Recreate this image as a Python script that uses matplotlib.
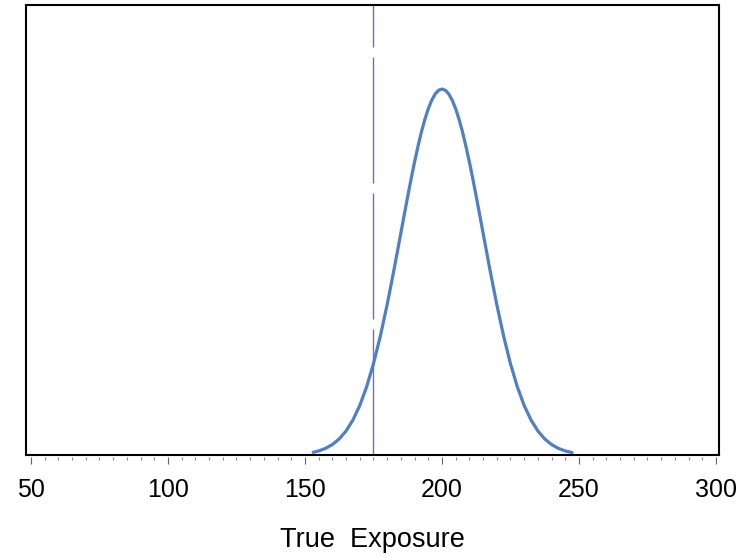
import matplotlib
matplotlib.use("Agg")
import matplotlib.pyplot as plt
from matplotlib.ticker import MultipleLocator

plt.rcParams['font.family'] = ['Liberation Sans', 'DejaVu Sans']
plt.rcParams['lines.scale_dashes'] = False

# densidad (exposicion verdadera)
exposicion = [153, 155, 157.5, 160, 162.5, 165, 167.5, 170, 172.5, 175, 177.5,
              180, 182.5, 185, 186.25, 187.5, 188.75, 190, 191.25, 192.5, 193.75,
              195, 196.25, 197.5, 198.75, 200, 201.25, 202.5, 203.75, 205, 206.25,
              207.5, 208.75, 210, 211.25, 212.5, 213.75, 215, 217.5, 220, 222.5,
              225, 227.5, 230, 232.5, 235, 237.5, 240, 242.5, 245, 247.5]
densidad = [0.000196, 0.000295, 0.000480, 0.000760, 0.001169, 0.001748, 0.002543,
            0.003599, 0.004954, 0.006632, 0.008634, 0.010934, 0.013467, 0.016131,
            0.017473, 0.018794, 0.020076, 0.021296, 0.022435, 0.023471, 0.024385,
            0.025159, 0.025778, 0.026229, 0.026504, 0.026596, 0.026504, 0.026229,
            0.025778, 0.025159, 0.024385, 0.023471, 0.022435, 0.021296, 0.020076,
            0.018794, 0.017473, 0.016131, 0.013467, 0.010934, 0.008634, 0.006632,
            0.004954, 0.003599, 0.002543, 0.001748, 0.001169, 0.000760, 0.000480,
            0.000295, 0.000177]
valor_ref = 175
ticks_x = [50, 100, 150, 200, 250, 300]

fig = plt.figure(figsize=(7.43, 5.57), dpi=100)
ax = fig.add_axes([0.035, 0.1831, 0.9327, 0.8079])

ax.plot(exposicion, densidad, color='#4f7fc4', lw=2.3, solid_capstyle='round',
        solid_joinstyle='round', zorder=3)
ax.axvline(valor_ref, color='#8364bd', lw=1.0, dashes=(90.7, 7.2), zorder=2)

ax.set_xlim(48.2, 301.1)
ax.set_ylim(0, 0.0327)
ax.set_yticks([])
ax.set_xticks([])
for s in ax.spines.values():
    s.set_linewidth(1.5)
    s.set_color('black')

# eje x separado del marco
sec = ax.secondary_xaxis(-0.005)
sec.spines['bottom'].set_visible(False)
sec.set_xticks(ticks_x)
sec.set_xticklabels([str(t) for t in ticks_x])
sec.xaxis.set_minor_locator(MultipleLocator(5))
sec.tick_params(which='major', length=5, width=0.8, color='#666666', pad=10, labelsize=18)
sec.tick_params(which='minor', length=2.5, width=0.8, color='#888888')
sec.set_xlabel('True  Exposure', fontsize=19.5, labelpad=18)

plt.savefig("out.png", dpi=100)
